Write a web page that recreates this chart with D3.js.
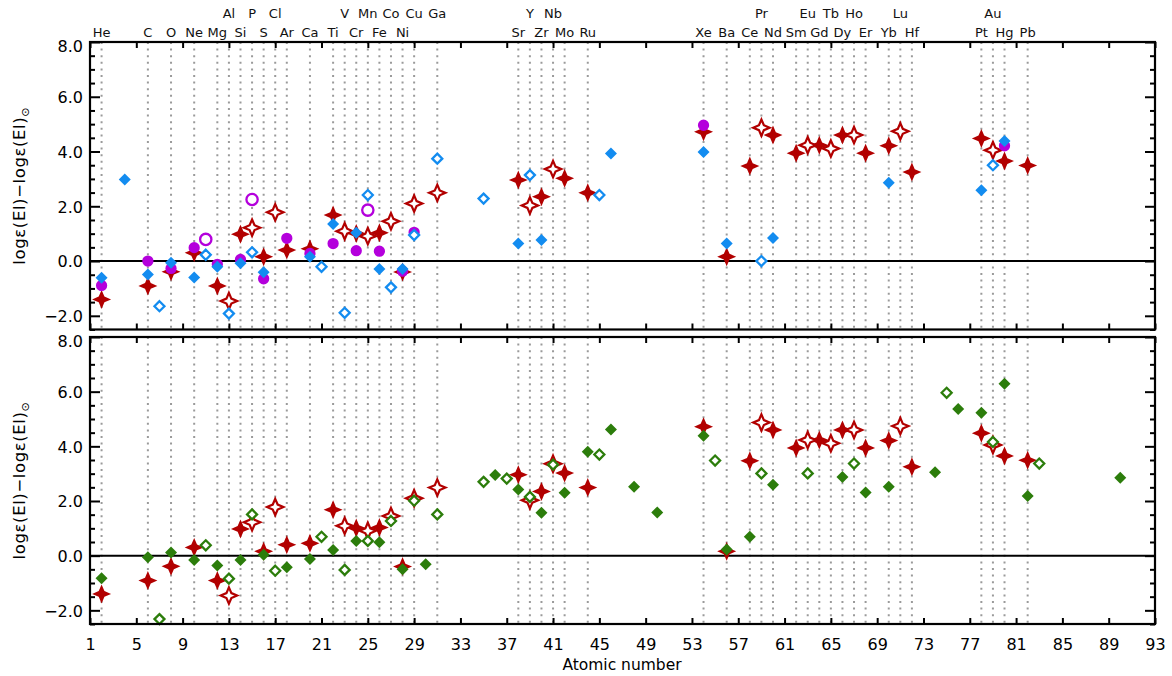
<!DOCTYPE html>
<html><head><meta charset="utf-8">
<script src="https://cdn.jsdelivr.net/npm/d3@7"></script>
<style>body{margin:0;background:#fff}svg{display:block}text{font-family:"DejaVu Sans",sans-serif}</style>
</head><body><svg id="c" width="1172" height="676"></svg>
<script>
// ---- data ----
const labelZ   = [2,6,8,10,12,13,14,15,16,17,18,20,22,23,24,25,26,27,28,29,31,38,39,40,41,42,44,54,56,58,59,60,62,63,64,65,66,67,68,70,71,72,78,79,80,82];
const labelSym = ["He","C","O","Ne","Mg","Al","Si","P","S","Cl","Ar","Ca","Ti","V","Cr","Mn","Fe","Co","Ni","Cu","Ga","Sr","Y","Zr","Nb","Mo","Ru","Xe","Ba","Ce","Pr","Nd","Sm","Eu","Gd","Tb","Dy","Ho","Er","Yb","Lu","Hf","Pt","Au","Hg","Pb"];
const labelRow = [0,0,0,0,0,1,0,1,0,1,0,0,0,1,0,1,0,1,0,1,1,0,1,0,1,0,0,0,0,0,1,0,0,1,0,1,0,1,0,0,1,0,0,1,0,0];
const xTicks = [1,5,9,13,17,21,25,29,33,37,41,45,49,53,57,61,65,69,73,77,81,85,89,93];
const yTicks = [-2,0,2,4,6,8];
const yMinor = [-2.5,-1.5,-1,-0.5,0.5,1,1.5,2.5,3,3.5,4.5,5,5.5,6.5,7,7.5];

// red stars (shown in both panels)
const redFilled = [[2,-1.40],[6,-0.91],[8,-0.39],[10,0.30],[12,-0.91],[14,0.98],[16,0.16],[18,0.40],[20,0.45],[22,1.68],[24,1.01],[26,1.03],[28,-0.40],[38,2.96],[40,2.35],[42,3.02],[44,2.49],[54,4.72],[56,0.16],[58,3.47],[60,4.60],[62,3.94],[64,4.23],[66,4.60],[68,3.94],[70,4.21],[72,3.25],[78,4.48],[80,3.65],[82,3.49]];
const redOpen = [[13,-1.46],[15,1.22],[17,1.78],[23,1.09],[25,0.91],[27,1.45],[29,2.10],[31,2.49],[39,2.03],[41,3.36],[59,4.87],[63,4.23],[65,4.11],[67,4.60],[71,4.74],[79,4.05]];
// top panel
const blueFilled = [[2,-0.61],[4,2.98],[6,-0.49],[8,-0.06],[10,-0.60],[12,-0.21],[14,-0.08],[16,-0.41],[20,0.16],[22,1.35],[24,1.03],[26,-0.29],[28,-0.29],[38,0.64],[40,0.77],[46,3.93],[54,3.98],[56,0.64],[60,0.84],[70,2.86],[78,2.59],[80,4.38]];
const blueOpen = [[7,-1.65],[11,0.23],[13,-1.92],[15,0.32],[21,-0.21],[23,-1.89],[25,2.41],[27,-0.96],[29,0.95],[31,3.74],[35,2.28],[39,3.14],[45,2.41],[59,0.00],[79,3.50]];
const purpleFilled = [[2,-0.89],[6,0.00],[8,-0.27],[10,0.49],[12,-0.12],[14,0.06],[16,-0.65],[18,0.83],[20,0.28],[22,0.64],[24,0.38],[26,0.36],[28,-0.37],[29,1.05],[54,4.96],[80,4.21]];
const purpleOpen = [[11,0.79],[15,2.25],[25,1.86]];
// bottom panel
const greenFilled = [[2,-0.83],[6,-0.06],[8,0.12],[10,-0.16],[12,-0.36],[14,-0.16],[16,0.03],[18,-0.42],[20,-0.12],[22,0.21],[24,0.54],[26,0.49],[28,-0.50],[30,-0.31],[36,2.95],[38,2.42],[40,1.57],[42,2.30],[44,3.80],[46,4.62],[48,2.52],[50,1.58],[54,4.39],[56,0.23],[58,0.69],[60,2.59],[66,2.88],[68,2.31],[70,2.52],[74,3.05],[76,5.37],[78,5.23],[80,6.29],[82,2.18],[90,2.85]];
const greenOpen = [[7,-2.32],[11,0.38],[13,-0.84],[15,1.51],[17,-0.55],[21,0.69],[23,-0.52],[25,0.54],[27,1.27],[29,2.01],[31,1.51],[35,2.70],[37,2.82],[39,2.15],[41,3.33],[45,3.70],[55,3.48],[59,3.01],[63,3.01],[67,3.37],[75,5.96],[79,4.16],[83,3.37]];

// ---- drawing ----
const RED="#b20000", BLUE="#138cf0", PURPLE="#b400dc", GREEN="#2c7d0b";
const svg = d3.select("#c");
const x = d3.scaleLinear().domain([1,93]).range([90,1155]);
const panels = [
  {y: d3.scaleLinear().domain([-2.5,8]).range([329.5,42]), series:[
    {d:redFilled, shape:"star", col:RED, open:false},
    {d:redOpen, shape:"star", col:RED, open:true},
    {d:purpleFilled, shape:"circle", col:PURPLE, open:false},
    {d:purpleOpen, shape:"circle", col:PURPLE, open:true},
    {d:blueFilled, shape:"diamond", col:BLUE, open:false},
    {d:blueOpen, shape:"diamond", col:BLUE, open:true}], xlabels:false},
  {y: d3.scaleLinear().domain([-2.5,8]).range([624,337]), series:[
    {d:redFilled, shape:"star", col:RED, open:false},
    {d:redOpen, shape:"star", col:RED, open:true},
    {d:greenFilled, shape:"diamond", col:GREEN, open:false},
    {d:greenOpen, shape:"diamond", col:GREEN, open:true}], xlabels:true}
];

function starPath(r){const k=r*0.3;return `M0,${-r}L${k},${-k}L${r},0L${k},${k}L0,${r}L${-k},${k}L${-r},0L${-k},${-k}Z`;}
function diamondPath(r){return `M0,${-r}L${r},0L0,${r}L${-r},0Z`;}

panels.forEach(p=>{
  const y=p.y, [y1,y0]=y.range();
  const g=svg.append("g");
  // dotted element lines
  g.selectAll("line.el").data(labelZ).join("line")
    .attr("x1",d=>x(d)).attr("x2",d=>x(d)).attr("y1",y0).attr("y2",y1)
    .attr("stroke","#9a9a9a").attr("stroke-width",2).attr("stroke-dasharray","2,4.6");
  // zero line
  g.append("line").attr("x1",x(1)).attr("x2",x(93)).attr("y1",y(0)).attr("y2",y(0))
    .attr("stroke","#000").attr("stroke-width",2);
  // marks
  p.series.forEach(s=>{
    const sel=g.append("g").selectAll("path").data(s.d).join("path")
      .attr("transform",d=>`translate(${x(d[0])},${y(d[1])})`);
    if(s.shape==="star") sel.attr("d",starPath(s.open?8.2:9.5));
    else if(s.shape==="diamond") sel.attr("d",diamondPath(s.open?5:6));
    else sel.attr("d",d3.symbol(d3.symbolCircle, 100)());
    if(s.open) sel.attr("fill","#fff").attr("stroke",s.col).attr("stroke-width",s.shape==="star"?2.2:2.3);
    else sel.attr("fill",s.col);
  });
  // axes
  const ax=svg.append("g");
  const left=ax.append("g").attr("transform",`translate(${x(1)},0)`)
    .call(d3.axisLeft(y).tickValues(yTicks).tickSize(-10).tickPadding(7).tickFormat(d=>d3.format(".1f")(d).replace("-","\u2212")));
  left.selectAll("text").attr("dy",d=>d===8?"0.62em":"0.36em");
  ax.append("g").attr("transform",`translate(${x(1)},0)`).call(d3.axisLeft(y).tickValues(yMinor).tickSize(-5).tickFormat(""));
  ax.append("g").attr("transform",`translate(${x(93)},0)`).call(d3.axisRight(y).tickValues(yTicks).tickSize(-10).tickFormat(""));
  ax.append("g").attr("transform",`translate(${x(93)},0)`).call(d3.axisRight(y).tickValues(yMinor).tickSize(-5).tickFormat(""));
  ax.append("g").attr("transform",`translate(0,${y0})`).call(d3.axisTop(x).tickValues(xTicks).tickSize(-6).tickFormat(""));
  ax.append("g").attr("transform",`translate(0,${y1})`)
    .call(d3.axisBottom(x).tickValues(xTicks).tickSize(-6).tickPadding(15).tickFormat(p.xlabels?d3.format("d"):""));
  ax.selectAll(".domain").remove();
  ax.selectAll(".tick line").attr("stroke","#000").attr("stroke-width",2);
  ax.selectAll("text").attr("fill","#000").attr("font-family","DejaVu Sans").attr("font-size",16);
  // frame
  svg.append("rect").attr("x",x(1)).attr("y",y0).attr("width",x(93)-x(1)).attr("height",y1-y0)
    .attr("fill","none").attr("stroke","#000").attr("stroke-width",2.2);
  // y title
  const t=svg.append("text").attr("transform",`translate(25,${(y0+y1)/2}) rotate(-90)`)
    .attr("text-anchor","middle").attr("font-size",16.5).attr("letter-spacing",0.6).attr("fill","#000");
  t.append("tspan").text("log\u03b5(El)\u2212log\u03b5(El)");
  t.append("tspan").attr("font-size",11).attr("dy",4).text("\u2299");
});

// element labels
svg.append("g").selectAll("text").data(labelZ).join("text")
  .attr("x",d=>x(d)).attr("y",(d,i)=>labelRow[i]?18:37)
  .attr("text-anchor","middle").attr("font-size",13).attr("fill","#111")
  .text((d,i)=>labelSym[i]);

svg.append("text").attr("x",622).attr("y",670).attr("text-anchor","middle")
  .attr("font-size",15.5).attr("fill","#000").text("Atomic number");
</script></body></html>
